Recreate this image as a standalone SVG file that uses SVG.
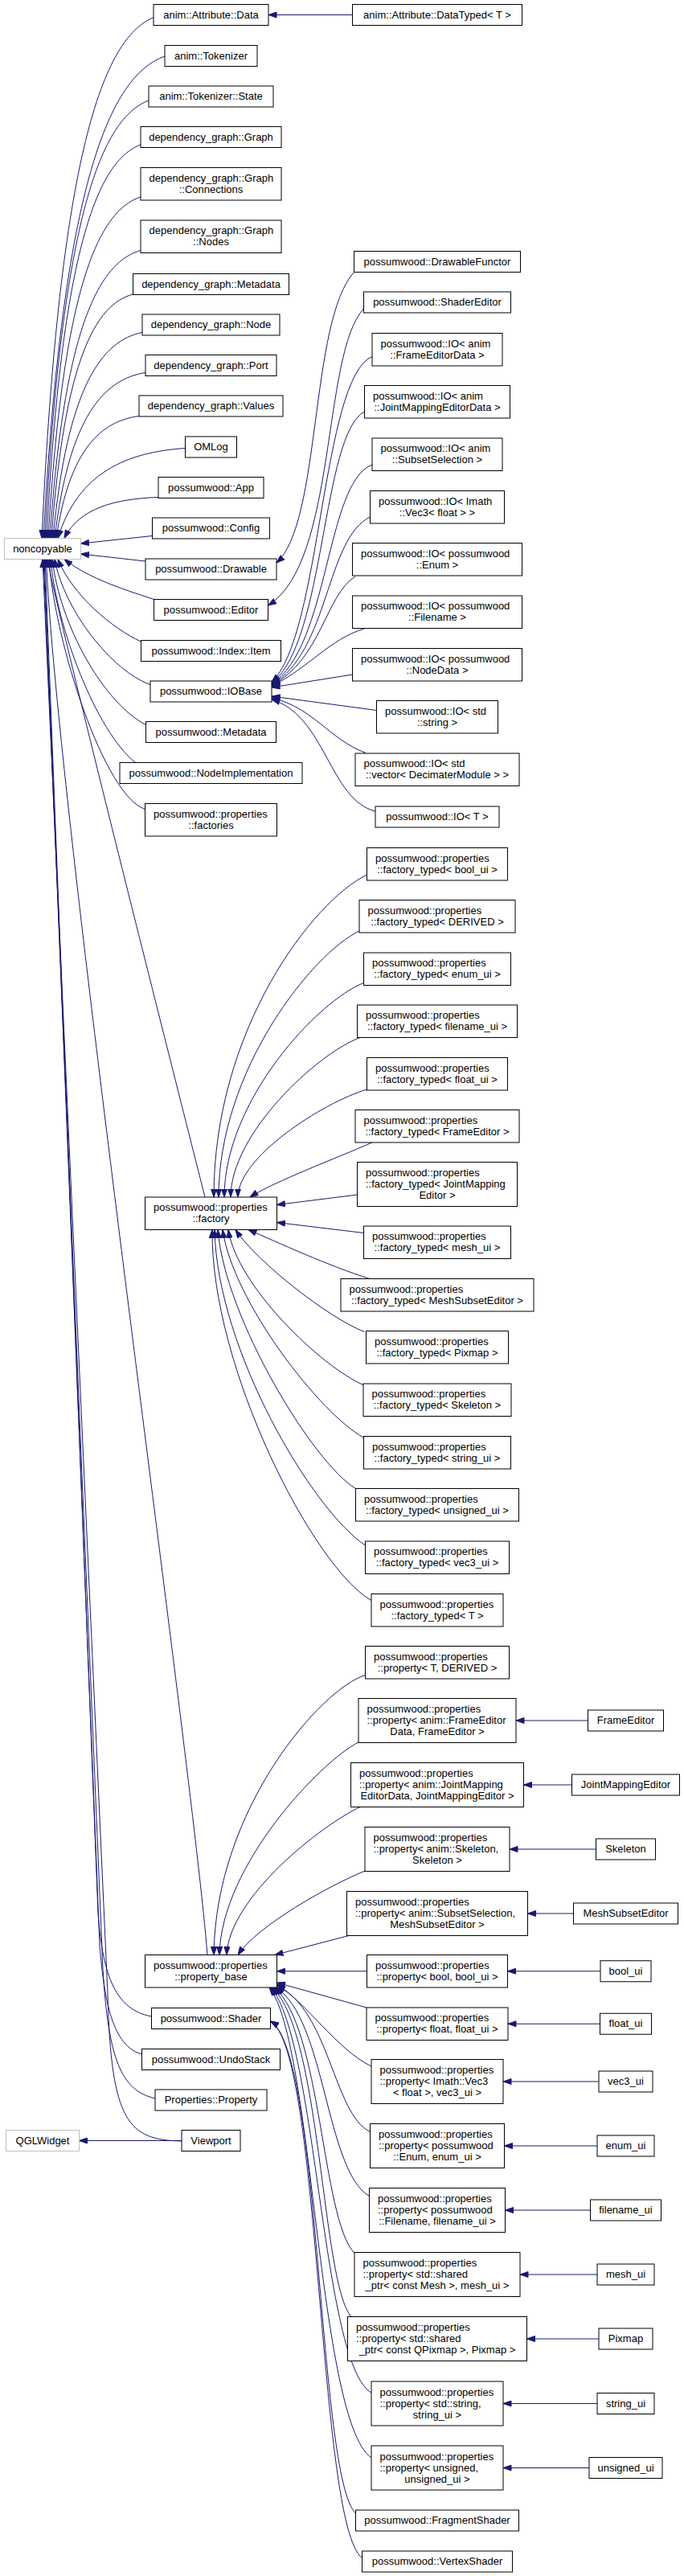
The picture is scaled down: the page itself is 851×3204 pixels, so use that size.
<svg xmlns="http://www.w3.org/2000/svg" width="851" height="3204" viewBox="0 0 851 3204">
<style>
.n rect{fill:#fff;stroke:#000;stroke-width:1}
.n.g rect{stroke:#bfbfbf}
text{font-family:"Liberation Sans",Arial,Helvetica,sans-serif;font-size:13px;fill:#000}
.c{text-anchor:middle}
.l{text-anchor:start}
#edges path{fill:none;stroke:#191970;stroke-width:1;marker-end:url(#arr)}
</style>
<defs>
<marker id="arr" markerUnits="userSpaceOnUse" markerWidth="11" markerHeight="8" viewBox="-0.5 -0.5 11 8" refX="10" refY="3.5" orient="auto"><path d="M0,0 L10,3.5 L0,7 Z" fill="#191970" stroke="#191970" stroke-width="1"/></marker>
</defs>
<rect x="0" y="0" width="851" height="3204" fill="#fff"/>
<g id="edges">
<path d="M191,21.7 C128.5,47.6 74.2,190.1 52,669.5"/>
<path d="M205,70 C137.1,94 78.2,225.8 54,669.5"/>
<path d="M185,125 C127,146.8 76.7,266.5 56,669.5"/>
<path d="M175,180 C122.2,199.6 76.7,307.2 58,669.5"/>
<path d="M175,245 C123.1,262 78.4,355.3 60,669.5"/>
<path d="M175,311.5 C124,326 80,404.7 62,669.5"/>
<path d="M165.5,366 C119.8,378.1 80.2,444.9 64,669.5"/>
<path d="M177,413.5 C127,423.5 83.7,479.9 66,669.5"/>
<path d="M181,463.5 C130,471.5 86,516.9 68,669.5"/>
<path d="M173,517.5 C126.7,523.8 86.5,557.1 70,669.5"/>
<path d="M230.5,557.5 C159.3,562.2 97.4,586.7 72,669.5"/>
<path d="M197,618.5 C144.4,620.3 98.7,631.6 80,669.5"/>
<path d="M189.5,666.5 L100.5,676"/>
<path d="M181,698 L100.5,689"/>
<path d="M191.5,745.5 C160,735 110,720 80,695.5"/>
<path d="M175.5,798 C140,782 90,740 72,695.5"/>
<path d="M187,851.5 C140,835 80,760 68,695.5"/>
<path d="M181.5,901.5 C130,875 75,780 65,695.5"/>
<path d="M168.5,948.5 C120,910 70,780 63,695.5"/>
<path d="M180.5,1006.5 C130,990 68,800 61,695.5"/>
<path d="M255,1489 C230,1390 70,760 59,695.5"/>
<path d="M258,2431.5 C240,2200 70,1000 57.5,695.5"/>
<path d="M188.5,2508 C145,2500 128,2460 122,2380 L56,695.5"/>
<path d="M176.5,2555 C140,2545 130,2490 124,2420 L55,695.5"/>
<path d="M193,2610 C150,2600 135,2560 128,2450 L54,695.5"/>
<path d="M226,2663 C160,2662 138,2640 134,2480 L53,695.5"/>
<path d="M226,2662.5 L98.5,2662.5"/>
<path d="M438.5,18.5 L334,18.5"/>
<path d="M440.5,338.5 C385,400 400,650 344,700"/>
<path d="M452.5,384 C400,440 420,700 333.5,753"/>
<path d="M463,443.5 C400,470 400,790 338,848.5"/>
<path d="M453.5,512 C400,540 405,800 338,849.5"/>
<path d="M463,578 C405,600 410,805 338,850.5"/>
<path d="M460.5,643 C405,670 410,810 338,851.5"/>
<path d="M442,717 C405,740 400,820 338,852.5"/>
<path d="M453,782 C410,795 385,830 338,853.5"/>
<path d="M438.5,839 L338,855"/>
<path d="M468.5,883.5 L338,866"/>
<path d="M455,936.5 C410,920 390,880 338,868"/>
<path d="M467,1009 C410,995 405,890 338,870"/>
<path d="M456.5,1088 C390,1120 266,1280 266,1489"/>
<path d="M447,1158 C390,1185 272,1330 272,1489"/>
<path d="M452.5,1222.5 C395,1245 279,1370 279,1489"/>
<path d="M448,1290.5 C395,1310 287,1410 287,1489"/>
<path d="M456.5,1355 C400,1372 296,1440 296,1489"/>
<path d="M463,1421 C420,1440 340,1470 311,1489"/>
<path d="M444.5,1486 L344.5,1498.5"/>
<path d="M452.5,1533.5 L344.5,1520.5"/>
<path d="M460,1590.5 C410,1575 345,1545 309,1529.5"/>
<path d="M453.5,1656.5 C410,1640 320,1570 293,1529.5"/>
<path d="M452,1722.5 C400,1700 295,1600 284,1529.5"/>
<path d="M452.5,1788 C400,1760 290,1620 277,1529.5"/>
<path d="M442.5,1851.5 C390,1820 280,1640 271,1529.5"/>
<path d="M454.5,1922 C390,1880 270,1680 267,1529.5"/>
<path d="M462,1990.5 C390,1950 262,1700 264,1529.5"/>
<path d="M454.5,2083.5 C400,2100 268,2250 266,2431.5"/>
<path d="M446,2167 C400,2190 275,2320 273,2431.5"/>
<path d="M448,2247.5 C400,2270 285,2360 282,2431.5"/>
<path d="M454,2327 C410,2345 320,2395 296,2431.5"/>
<path d="M434,2407.5 L342,2431.5"/>
<path d="M456.5,2451.75 L344.5,2451.75"/>
<path d="M456,2497 L344.5,2466"/>
<path d="M462,2570 C420,2550 380,2490 344.5,2468"/>
<path d="M460.5,2651.5 C415,2630 410,2500 344.5,2470"/>
<path d="M459.5,2731.5 C405,2700 405,2510 343,2472"/>
<path d="M441,2802.5 C400,2760 400,2520 341,2472"/>
<path d="M437,2881.5 C400,2840 400,2530 339,2472"/>
<path d="M462,2976 C400,2940 395,2540 337,2472"/>
<path d="M462,3057 C395,3010 390,2540 335,2472"/>
<path d="M442.5,3126 C395,3080 400,2550 336.5,2514"/>
<path d="M450.5,3181.5 C395,3140 400,2550 336.5,2514"/>
<path d="M731.5,2140 L642,2140"/>
<path d="M711.5,2220 L651.5,2220"/>
<path d="M741.5,2300 L634,2300"/>
<path d="M713.5,2380 L656.5,2380"/>
<path d="M747,2451.75 L631.5,2451.75"/>
<path d="M746.5,2517.25 L632,2517.25"/>
<path d="M745,2589 L626,2589"/>
<path d="M743,2669 L627.5,2669"/>
<path d="M734.5,2749 L628.5,2749"/>
<path d="M743,2829 L647,2829"/>
<path d="M745,2909 L655.5,2909"/>
<path d="M743,2989.5 L626,2989.5"/>
<path d="M733,3069.5 L626,3069.5"/>
</g>
<g id="noncopyable" class="n g"><rect x="5.5" y="669.5" width="95" height="26"/><text class="c" x="53" y="686.5">noncopyable</text></g>
<g id="qglwidget" class="n g"><rect x="7.5" y="2649.5" width="91" height="26"/><text class="c" x="53" y="2666.5">QGLWidget</text></g>
<g id="n_data" class="n"><rect x="191" y="5.5" width="143" height="26"/><text class="c" x="262.5" y="22.5">anim::Attribute::Data</text></g>
<g id="n_tok" class="n"><rect x="205" y="56.5" width="115" height="26"/><text class="c" x="262.5" y="73.5">anim::Tokenizer</text></g>
<g id="n_state" class="n"><rect x="185" y="107" width="155" height="26"/><text class="c" x="262.5" y="124">anim::Tokenizer::State</text></g>
<g id="n_graph" class="n"><rect x="175" y="157.5" width="175" height="26"/><text class="c" x="262.5" y="174.5">dependency_graph::Graph</text></g>
<g id="n_conn" class="n"><rect x="175" y="208.5" width="175" height="40.5"/><text><tspan class="l" x="185.5" y="225.75">dependency_graph::Graph</tspan><tspan class="c" x="262.5" y="239.75">::Connections</tspan></text></g>
<g id="n_nodes" class="n"><rect x="175" y="274" width="175" height="40.5"/><text><tspan class="l" x="185.5" y="291.25">dependency_graph::Graph</tspan><tspan class="c" x="262.5" y="305.25">::Nodes</tspan></text></g>
<g id="n_dgmeta" class="n"><rect x="165.5" y="340.5" width="194" height="26"/><text class="c" x="262.5" y="357.5">dependency_graph::Metadata</text></g>
<g id="n_node" class="n"><rect x="177" y="391" width="171" height="26"/><text class="c" x="262.5" y="408">dependency_graph::Node</text></g>
<g id="n_port" class="n"><rect x="181" y="441.5" width="163" height="26"/><text class="c" x="262.5" y="458.5">dependency_graph::Port</text></g>
<g id="n_values" class="n"><rect x="173" y="492" width="179" height="26"/><text class="c" x="262.5" y="509">dependency_graph::Values</text></g>
<g id="n_omlog" class="n"><rect x="230.5" y="543" width="64" height="26"/><text class="c" x="262.5" y="560">OMLog</text></g>
<g id="n_app" class="n"><rect x="197" y="593.5" width="131" height="26"/><text class="c" x="262.5" y="610.5">possumwood::App</text></g>
<g id="n_config" class="n"><rect x="189.5" y="644" width="146" height="26"/><text class="c" x="262.5" y="661">possumwood::Config</text></g>
<g id="n_drawable" class="n"><rect x="181" y="695" width="163" height="26"/><text class="c" x="262.5" y="712">possumwood::Drawable</text></g>
<g id="n_editor" class="n"><rect x="191.5" y="745.5" width="142" height="26"/><text class="c" x="262.5" y="762.5">possumwood::Editor</text></g>
<g id="n_item" class="n"><rect x="175.5" y="796.5" width="174" height="26"/><text class="c" x="262.5" y="813.5">possumwood::Index::Item</text></g>
<g id="n_iobase" class="n"><rect x="187" y="847" width="151" height="26"/><text class="c" x="262.5" y="864">possumwood::IOBase</text></g>
<g id="n_meta" class="n"><rect x="181.5" y="897.5" width="162" height="26"/><text class="c" x="262.5" y="914.5">possumwood::Metadata</text></g>
<g id="n_nodeimpl" class="n"><rect x="149" y="948.5" width="227" height="26"/><text class="c" x="262.5" y="965.5">possumwood::NodeImplementation</text></g>
<g id="n_factories" class="n"><rect x="180.5" y="999.5" width="164" height="40.5"/><text><tspan class="l" x="191" y="1016.75">possumwood::properties</tspan><tspan class="c" x="262.5" y="1030.75">::factories</tspan></text></g>
<g id="n_factory" class="n"><rect x="180.5" y="1489" width="164" height="40.5"/><text><tspan class="l" x="191" y="1506.25">possumwood::properties</tspan><tspan class="c" x="262.5" y="1520.25">::factory</tspan></text></g>
<g id="n_propbase" class="n"><rect x="180.5" y="2431.5" width="164" height="40.5"/><text><tspan class="l" x="191" y="2448.75">possumwood::properties</tspan><tspan class="c" x="262.5" y="2462.75">::property_base</tspan></text></g>
<g id="n_shader" class="n"><rect x="188.5" y="2497.5" width="148" height="26"/><text class="c" x="262.5" y="2514.5">possumwood::Shader</text></g>
<g id="n_undo" class="n"><rect x="176.5" y="2548.5" width="172" height="26"/><text class="c" x="262.5" y="2565.5">possumwood::UndoStack</text></g>
<g id="n_propprop" class="n"><rect x="193" y="2599" width="139" height="26"/><text class="c" x="262.5" y="2616">Properties::Property</text></g>
<g id="n_viewport" class="n"><rect x="226" y="2649.5" width="73" height="26"/><text class="c" x="262.5" y="2666.5">Viewport</text></g>
<g id="n_datatyped" class="n"><rect x="438.5" y="5.5" width="211" height="26"/><text class="c" x="544" y="22.5">anim::Attribute::DataTyped&lt; T &gt;</text></g>
<g id="n_drawfunc" class="n"><rect x="440.5" y="312.5" width="207" height="26"/><text class="c" x="544" y="329.5">possumwood::DrawableFunctor</text></g>
<g id="n_shadered" class="n"><rect x="452.5" y="363" width="183" height="26"/><text class="c" x="544" y="380">possumwood::ShaderEditor</text></g>
<g id="n_io_fed" class="n"><rect x="463" y="414.5" width="162" height="40.5"/><text><tspan class="l" x="473.5" y="431.75">possumwood::IO&lt; anim</tspan><tspan class="c" x="544" y="445.75">::FrameEditorData &gt;</tspan></text></g>
<g id="n_io_jmed" class="n"><rect x="453.5" y="479.5" width="181" height="40.5"/><text><tspan class="l" x="464" y="496.75">possumwood::IO&lt; anim</tspan><tspan class="c" x="544" y="510.75">::JointMappingEditorData &gt;</tspan></text></g>
<g id="n_io_ss" class="n"><rect x="463" y="545" width="162" height="40.5"/><text><tspan class="l" x="473.5" y="562.25">possumwood::IO&lt; anim</tspan><tspan class="c" x="544" y="576.25">::SubsetSelection &gt;</tspan></text></g>
<g id="n_io_vec3" class="n"><rect x="460.5" y="610.5" width="167" height="40.5"/><text><tspan class="l" x="471" y="627.75">possumwood::IO&lt; Imath</tspan><tspan class="c" x="544" y="641.75">::Vec3&lt; float &gt; &gt;</tspan></text></g>
<g id="n_io_enum" class="n"><rect x="438.5" y="675.5" width="211" height="40.5"/><text><tspan class="l" x="449" y="692.75">possumwood::IO&lt; possumwood</tspan><tspan class="c" x="544" y="706.75">::Enum &gt;</tspan></text></g>
<g id="n_io_fn" class="n"><rect x="438.5" y="741" width="211" height="40.5"/><text><tspan class="l" x="449" y="758.25">possumwood::IO&lt; possumwood</tspan><tspan class="c" x="544" y="772.25">::Filename &gt;</tspan></text></g>
<g id="n_io_nd" class="n"><rect x="438.5" y="806.5" width="211" height="40.5"/><text><tspan class="l" x="449" y="823.75">possumwood::IO&lt; possumwood</tspan><tspan class="c" x="544" y="837.75">::NodeData &gt;</tspan></text></g>
<g id="n_io_str" class="n"><rect x="468.5" y="871.5" width="151" height="40.5"/><text><tspan class="l" x="479" y="888.75">possumwood::IO&lt; std</tspan><tspan class="c" x="544" y="902.75">::string &gt;</tspan></text></g>
<g id="n_io_vec" class="n"><rect x="442" y="937" width="204" height="40.5"/><text><tspan class="l" x="452.5" y="954.25">possumwood::IO&lt; std</tspan><tspan class="c" x="544" y="968.25">::vector&lt; DecimaterModule &gt; &gt;</tspan></text></g>
<g id="n_io_t" class="n"><rect x="467" y="1003" width="154" height="26"/><text class="c" x="544" y="1020">possumwood::IO&lt; T &gt;</text></g>
<g id="n_ft_bool" class="n"><rect x="456.5" y="1054.5" width="175" height="40.5"/><text><tspan class="l" x="467" y="1071.75">possumwood::properties</tspan><tspan class="c" x="544" y="1085.75">::factory_typed&lt; bool_ui &gt;</tspan></text></g>
<g id="n_ft_derived" class="n"><rect x="447" y="1119.5" width="194" height="40.5"/><text><tspan class="l" x="457.5" y="1136.75">possumwood::properties</tspan><tspan class="c" x="544" y="1150.75">::factory_typed&lt; DERIVED &gt;</tspan></text></g>
<g id="n_ft_enum" class="n"><rect x="452.5" y="1185" width="183" height="40.5"/><text><tspan class="l" x="463" y="1202.25">possumwood::properties</tspan><tspan class="c" x="544" y="1216.25">::factory_typed&lt; enum_ui &gt;</tspan></text></g>
<g id="n_ft_fn" class="n"><rect x="444.5" y="1250" width="199" height="40.5"/><text><tspan class="l" x="455" y="1267.25">possumwood::properties</tspan><tspan class="c" x="544" y="1281.25">::factory_typed&lt; filename_ui &gt;</tspan></text></g>
<g id="n_ft_float" class="n"><rect x="456.5" y="1315.5" width="175" height="40.5"/><text><tspan class="l" x="467" y="1332.75">possumwood::properties</tspan><tspan class="c" x="544" y="1346.75">::factory_typed&lt; float_ui &gt;</tspan></text></g>
<g id="n_ft_fe" class="n"><rect x="442" y="1380.5" width="204" height="40.5"/><text><tspan class="l" x="452.5" y="1397.75">possumwood::properties</tspan><tspan class="c" x="544" y="1411.75">::factory_typed&lt; FrameEditor &gt;</tspan></text></g>
<g id="n_ft_jme" class="n"><rect x="444.5" y="1445.5" width="199" height="55"/><text><tspan class="l" x="455" y="1463">possumwood::properties</tspan><tspan class="l" x="455" y="1477">::factory_typed&lt; JointMapping</tspan><tspan class="c" x="544" y="1491">Editor &gt;</tspan></text></g>
<g id="n_ft_mesh" class="n"><rect x="452.5" y="1525" width="183" height="40.5"/><text><tspan class="l" x="463" y="1542.25">possumwood::properties</tspan><tspan class="c" x="544" y="1556.25">::factory_typed&lt; mesh_ui &gt;</tspan></text></g>
<g id="n_ft_mse" class="n"><rect x="424" y="1590.5" width="240" height="40.5"/><text><tspan class="l" x="434.5" y="1607.75">possumwood::properties</tspan><tspan class="c" x="544" y="1621.75">::factory_typed&lt; MeshSubsetEditor &gt;</tspan></text></g>
<g id="n_ft_pix" class="n"><rect x="455.5" y="1655.5" width="177" height="40.5"/><text><tspan class="l" x="466" y="1672.75">possumwood::properties</tspan><tspan class="c" x="544" y="1686.75">::factory_typed&lt; Pixmap &gt;</tspan></text></g>
<g id="n_ft_skel" class="n"><rect x="452" y="1721" width="184" height="40.5"/><text><tspan class="l" x="462.5" y="1738.25">possumwood::properties</tspan><tspan class="c" x="544" y="1752.25">::factory_typed&lt; Skeleton &gt;</tspan></text></g>
<g id="n_ft_str" class="n"><rect x="452.5" y="1786.5" width="183" height="40.5"/><text><tspan class="l" x="463" y="1803.75">possumwood::properties</tspan><tspan class="c" x="544" y="1817.75">::factory_typed&lt; string_ui &gt;</tspan></text></g>
<g id="n_ft_uns" class="n"><rect x="442.5" y="1851.5" width="203" height="40.5"/><text><tspan class="l" x="453" y="1868.75">possumwood::properties</tspan><tspan class="c" x="544" y="1882.75">::factory_typed&lt; unsigned_ui &gt;</tspan></text></g>
<g id="n_ft_vec3" class="n"><rect x="454.5" y="1917" width="179" height="40.5"/><text><tspan class="l" x="465" y="1934.25">possumwood::properties</tspan><tspan class="c" x="544" y="1948.25">::factory_typed&lt; vec3_ui &gt;</tspan></text></g>
<g id="n_ft_t" class="n"><rect x="462" y="1982.5" width="164" height="40.5"/><text><tspan class="l" x="472.5" y="1999.75">possumwood::properties</tspan><tspan class="c" x="544" y="2013.75">::factory_typed&lt; T &gt;</tspan></text></g>
<g id="n_p_t" class="n"><rect x="454.5" y="2047.5" width="179" height="40.5"/><text><tspan class="l" x="465" y="2064.75">possumwood::properties</tspan><tspan class="c" x="544" y="2078.75">::property&lt; T, DERIVED &gt;</tspan></text></g>
<g id="n_p_fe" class="n"><rect x="446" y="2112.5" width="196" height="55"/><text><tspan class="l" x="456.5" y="2130">possumwood::properties</tspan><tspan class="l" x="456.5" y="2144">::property&lt; anim::FrameEditor</tspan><tspan class="c" x="544" y="2158">Data, FrameEditor &gt;</tspan></text></g>
<g id="n_p_jm" class="n"><rect x="436.5" y="2192.5" width="215" height="55"/><text><tspan class="l" x="447" y="2210">possumwood::properties</tspan><tspan class="l" x="447" y="2224">::property&lt; anim::JointMapping</tspan><tspan class="c" x="544" y="2238">EditorData, JointMappingEditor &gt;</tspan></text></g>
<g id="n_p_skel" class="n"><rect x="454" y="2272.5" width="180" height="55"/><text><tspan class="l" x="464.5" y="2290">possumwood::properties</tspan><tspan class="l" x="464.5" y="2304">::property&lt; anim::Skeleton,</tspan><tspan class="c" x="544" y="2318">Skeleton &gt;</tspan></text></g>
<g id="n_p_ss" class="n"><rect x="431.5" y="2352.5" width="225" height="55"/><text><tspan class="l" x="442" y="2370">possumwood::properties</tspan><tspan class="l" x="442" y="2384">::property&lt; anim::SubsetSelection,</tspan><tspan class="c" x="544" y="2398">MeshSubsetEditor &gt;</tspan></text></g>
<g id="n_p_bool" class="n"><rect x="456.5" y="2431.5" width="175" height="40.5"/><text><tspan class="l" x="467" y="2448.75">possumwood::properties</tspan><tspan class="c" x="544" y="2462.75">::property&lt; bool, bool_ui &gt;</tspan></text></g>
<g id="n_p_float" class="n"><rect x="456" y="2497" width="176" height="40.5"/><text><tspan class="l" x="466.5" y="2514.25">possumwood::properties</tspan><tspan class="c" x="544" y="2528.25">::property&lt; float, float_ui &gt;</tspan></text></g>
<g id="n_p_vec3" class="n"><rect x="462" y="2561.5" width="164" height="55"/><text><tspan class="l" x="472.5" y="2579">possumwood::properties</tspan><tspan class="l" x="472.5" y="2593">::property&lt; Imath::Vec3</tspan><tspan class="c" x="544" y="2607">&lt; float &gt;, vec3_ui &gt;</tspan></text></g>
<g id="n_p_enum" class="n"><rect x="460.5" y="2641.5" width="167" height="55"/><text><tspan class="l" x="471" y="2659">possumwood::properties</tspan><tspan class="l" x="471" y="2673">::property&lt; possumwood</tspan><tspan class="c" x="544" y="2687">::Enum, enum_ui &gt;</tspan></text></g>
<g id="n_p_fn" class="n"><rect x="459.5" y="2721.5" width="169" height="55"/><text><tspan class="l" x="470" y="2739">possumwood::properties</tspan><tspan class="l" x="470" y="2753">::property&lt; possumwood</tspan><tspan class="c" x="544" y="2767">::Filename, filename_ui &gt;</tspan></text></g>
<g id="n_p_mesh" class="n"><rect x="441" y="2801.5" width="206" height="55"/><text><tspan class="l" x="451.5" y="2819">possumwood::properties</tspan><tspan class="l" x="451.5" y="2833">::property&lt; std::shared</tspan><tspan class="c" x="544" y="2847">_ptr&lt; const Mesh &gt;, mesh_ui &gt;</tspan></text></g>
<g id="n_p_pix" class="n"><rect x="432.5" y="2881.5" width="223" height="55"/><text><tspan class="l" x="443" y="2899">possumwood::properties</tspan><tspan class="l" x="443" y="2913">::property&lt; std::shared</tspan><tspan class="c" x="544" y="2927">_ptr&lt; const QPixmap &gt;, Pixmap &gt;</tspan></text></g>
<g id="n_p_str" class="n"><rect x="462" y="2962" width="164" height="55"/><text><tspan class="l" x="472.5" y="2979.5">possumwood::properties</tspan><tspan class="l" x="472.5" y="2993.5">::property&lt; std::string,</tspan><tspan class="c" x="544" y="3007.5">string_ui &gt;</tspan></text></g>
<g id="n_p_uns" class="n"><rect x="462" y="3042" width="164" height="55"/><text><tspan class="l" x="472.5" y="3059.5">possumwood::properties</tspan><tspan class="l" x="472.5" y="3073.5">::property&lt; unsigned,</tspan><tspan class="c" x="544" y="3087.5">unsigned_ui &gt;</tspan></text></g>
<g id="n_frag" class="n"><rect x="442.5" y="3122" width="203" height="26"/><text class="c" x="544" y="3139">possumwood::FragmentShader</text></g>
<g id="n_vert" class="n"><rect x="450.5" y="3173" width="187" height="26"/><text class="c" x="544" y="3190">possumwood::VertexShader</text></g>
<g id="n_frameeditor" class="n"><rect x="731.5" y="2127" width="94" height="26"/><text class="c" x="778.5" y="2144">FrameEditor</text></g>
<g id="n_jme" class="n"><rect x="711.5" y="2207" width="134" height="26"/><text class="c" x="778.5" y="2224">JointMappingEditor</text></g>
<g id="n_skeleton" class="n"><rect x="741.5" y="2287" width="74" height="26"/><text class="c" x="778.5" y="2304">Skeleton</text></g>
<g id="n_mse" class="n"><rect x="713.5" y="2367" width="130" height="26"/><text class="c" x="778.5" y="2384">MeshSubsetEditor</text></g>
<g id="n_bool_ui" class="n"><rect x="747" y="2438.75" width="63" height="26"/><text class="c" x="778.5" y="2455.75">bool_ui</text></g>
<g id="n_float_ui" class="n"><rect x="746.5" y="2504.25" width="64" height="26"/><text class="c" x="778.5" y="2521.25">float_ui</text></g>
<g id="n_vec3_ui" class="n"><rect x="745" y="2576" width="67" height="26"/><text class="c" x="778.5" y="2593">vec3_ui</text></g>
<g id="n_enum_ui" class="n"><rect x="743" y="2656" width="71" height="26"/><text class="c" x="778.5" y="2673">enum_ui</text></g>
<g id="n_filename_ui" class="n"><rect x="734.5" y="2736" width="88" height="26"/><text class="c" x="778.5" y="2753">filename_ui</text></g>
<g id="n_mesh_ui" class="n"><rect x="743" y="2816" width="71" height="26"/><text class="c" x="778.5" y="2833">mesh_ui</text></g>
<g id="n_pixmap" class="n"><rect x="745" y="2896" width="67" height="26"/><text class="c" x="778.5" y="2913">Pixmap</text></g>
<g id="n_string_ui" class="n"><rect x="743" y="2976.5" width="71" height="26"/><text class="c" x="778.5" y="2993.5">string_ui</text></g>
<g id="n_unsigned_ui" class="n"><rect x="733" y="3056.5" width="91" height="26"/><text class="c" x="778.5" y="3073.5">unsigned_ui</text></g>
</svg>
